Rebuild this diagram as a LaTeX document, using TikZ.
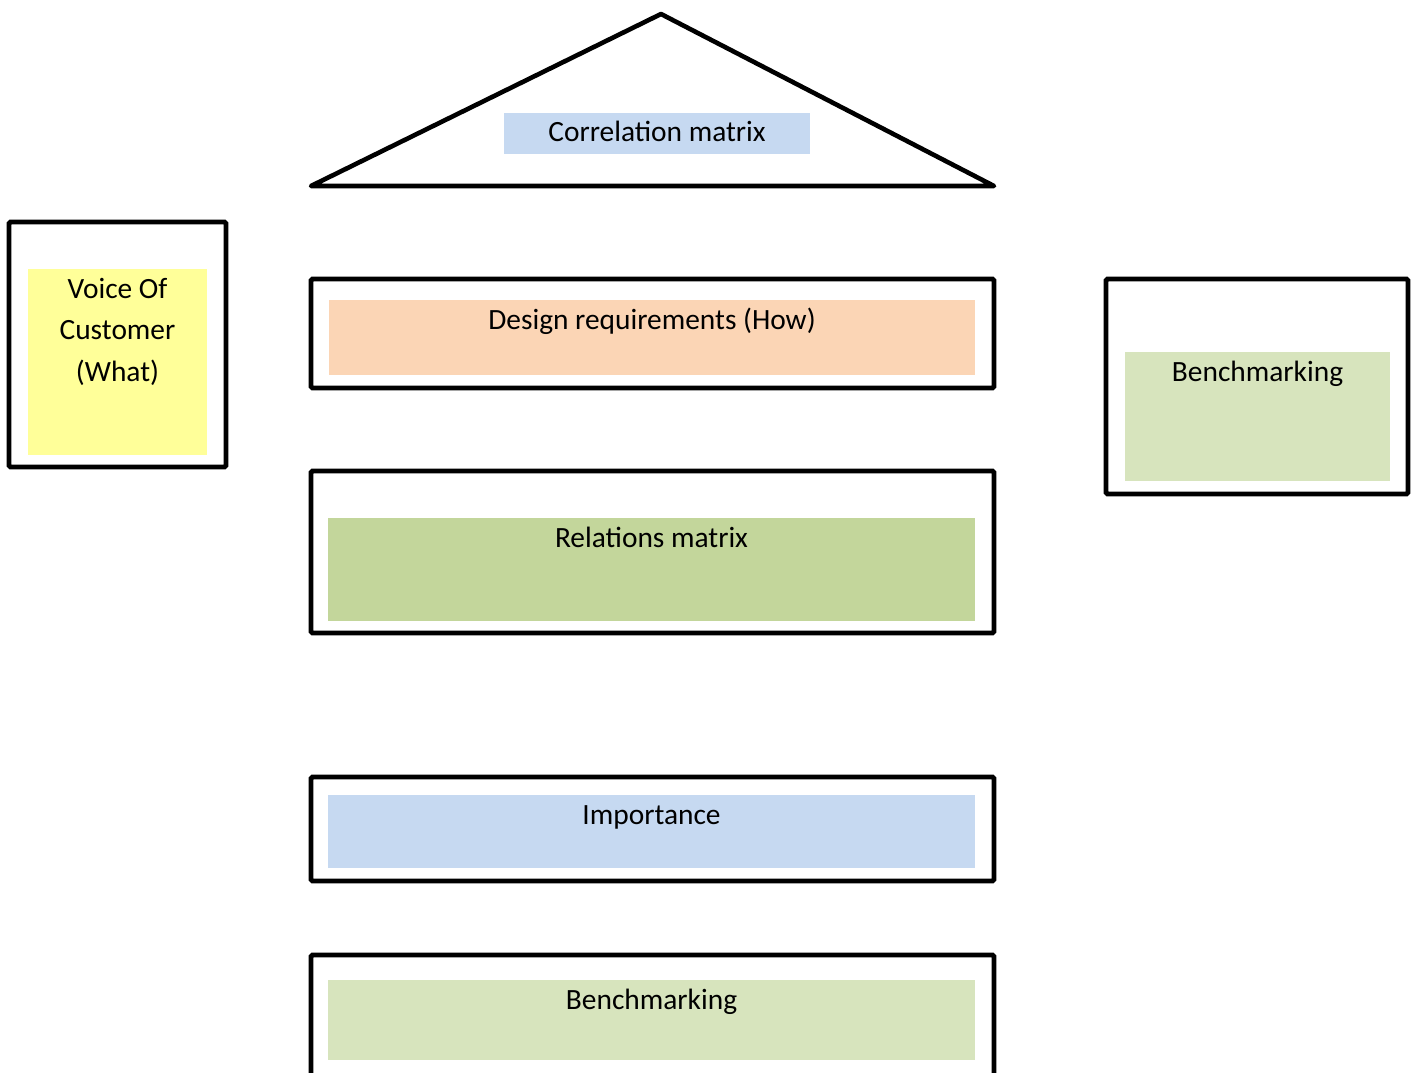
\documentclass[tikz,border=0pt]{standalone}
\usepackage{fontspec}
\setmainfont{Carlito}
\usetikzlibrary{positioning}

\definecolor{qblue}{HTML}{C6D9F1}
\definecolor{qpeach}{HTML}{FBD5B5}
\definecolor{qyellow}{HTML}{FFFF99}
\definecolor{qolive}{HTML}{C3D69B}
\definecolor{qgreen}{HTML}{D7E4BD}

\tikzset{
  frame/.style={draw, line width=2.4pt, rounded corners=0.8pt, inner sep=0pt},
  area/.style={draw=none, inner sep=0pt},
  caption/.style={inner sep=0pt, text height=10pt, text depth=3pt,
    font=\fontsize{14.7}{20.75}\selectfont, align=center}
}

\begin{document}
\begin{tikzpicture}[x=0.5pt,y=-0.5pt,node distance=4.5pt]
      \useasboundingbox (0,0) rectangle (1416,1072);

      %% roof
      \coordinate (apex)  at (661,14);
      \coordinate (eaveL) at (311,186);
      \coordinate (eaveR) at (994,186);
      \draw[line width=2.3pt, line join=round] (eaveL) -- (apex) -- (eaveR) -- cycle;
      \node[area, fill=qblue, minimum width=153pt, minimum height=20.5pt] (corr) at (657,133.5) {};
      \node[caption, yshift=-0.5pt] (corrtxt) at (corr.center) {Correlation matrix};

      %%%%%%%%%%%%%%%%%%%%%%%%%%%%%%%%%%%%%%%%%%%%%%%%%%%%%%%%%%%
      %% left wall
      \node[frame, minimum width=108.5pt, minimum height=122.5pt] (voc) at (117.5,344.5) {};
      \node[area, fill=qyellow, minimum width=89.5pt, minimum height=93pt] (vocin) at (117.5,362) {};
      \node[caption, text height=51.5pt] (voctxt) [below=of vocin.north] {Voice Of\\Customer\\(What)};

      %%%%%%%%%%%%%%%%%%%%%%%%%%%%%%%%%%%%%%%%%%%%%%%%%%%%%%%%%%%
      %% middle
      \node[frame, minimum width=341.5pt, minimum height=54.5pt] (how) at (652.5,333.5) {};
      \node[area, fill=qpeach, minimum width=323pt, minimum height=37.5pt] (howin) at (652,337.5) {};
      \node[caption] (howtxt) [below=of howin.north] {Design requirements (How)};

      \node[frame, minimum width=341.5pt, minimum height=81pt] (rel) at (652.5,552) {};
      \node[area, fill=qolive, minimum width=323.5pt, minimum height=51.5pt] (relin) at (651.5,569.5) {};
      \node[caption] (reltxt) [below=of relin.north] {Relations matrix};

      \node[frame, minimum width=341.5pt, minimum height=52pt] (imp) at (652.5,829) {};
      \node[area, fill=qblue, minimum width=323.5pt, minimum height=36.5pt] (impin) at (651.5,831.5) {};
      \node[caption] (imptxt) [below=of impin.north] {Importance};

      \node[frame, minimum width=341.5pt, minimum height=67.5pt] (bmb) at (652.5,1022.5) {};
      \node[area, fill=qgreen, minimum width=323.5pt, minimum height=40pt] (bmbin) at (651.5,1020) {};
      \node[caption] (bmbtxt) [below=of bmbin.north] {Benchmarking};

      %%%%%%%%%%%%%%%%%%%%%%%%%%%%%%%%%%%%%%%%%%%%%%%%%%%%%%%%%%%
      %% right wall
      \node[frame, minimum width=151pt, minimum height=107.5pt] (bmr) at (1257,386.5) {};
      \node[area, fill=qgreen, minimum width=132.5pt, minimum height=64.5pt] (bmrin) at (1257.5,416.5) {};
      \node[caption] (bmrtxt) [below=of bmrin.north] {Benchmarking};
\end{tikzpicture}
\end{document}
